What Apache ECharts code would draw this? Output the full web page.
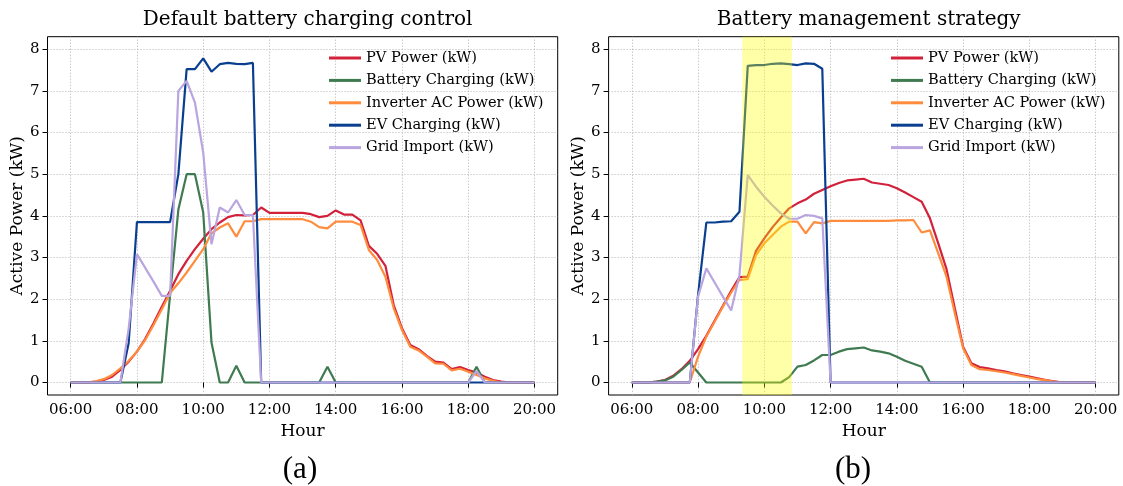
<!DOCTYPE html>
<html>
<head>
<meta charset="utf-8">
<script src="https://cdn.jsdelivr.net/npm/echarts@6/dist/echarts.min.js"></script>
<style>html,body{margin:0;padding:0;background:#fff;}#c{width:1123px;height:486px;}</style>
</head>
<body>
<div id="c"></div>
<script>
// ---------------- data ----------------
const HOURS = ['06:00','06:15','06:30','06:45','07:00','07:15','07:30','07:45','08:00','08:15','08:30','08:45',
  '09:00','09:15','09:30','09:45','10:00','10:15','10:30','10:45','11:00','11:15','11:30','11:45',
  '12:00','12:15','12:30','12:45','13:00','13:15','13:30','13:45','14:00','14:15','14:30','14:45',
  '15:00','15:15','15:30','15:45','16:00','16:15','16:30','16:45','17:00','17:15','17:30','17:45',
  '18:00','18:15','18:30','18:45','19:00','19:15','19:30','19:45','20:00'];

const X_TICK_LABELS = ['06:00','08:00','10:00','12:00','14:00','16:00','18:00','20:00'];
const Y_TICK_LABELS = [0,1,2,3,4,5,6,7,8];

const SERIES_NAMES = ['PV Power (kW)','Battery Charging (kW)','Inverter AC Power (kW)','EV Charging (kW)','Grid Import (kW)'];
const TITLES = ['Default battery charging control','Battery management strategy'];
const CAPTIONS = ['(a)','(b)'];

// (a) default control
const pvA  = [0,0,0,0.02,0.06,0.14,0.3,0.5,0.74,1.05,1.42,1.82,2.2,2.6,2.92,3.2,3.45,3.68,3.84,3.97,4.02,4.01,4.02,4.2,4.07,
  4.07,4.07,4.07,4.07,4.04,3.97,4.0,4.13,4.03,4.03,3.89,3.28,3.09,2.8,1.86,1.3,0.9,0.8,0.64,0.5,0.48,0.32,0.37,0.3,0.24,0.14,0.06,0.02,0,0,0,0];
const batA = [0,0,0,0,0,0,0,0,0,0,0,0,2.1,4.15,5.0,5.0,4.08,0.96,0,0,0.4,0,0,0,0,
  0,0,0,0,0,0,0.38,0,0,0,0,0,0,0,0,0,0,0,0,0,0,0,0,0,0.38,0,0,0,0,0,0,0];
const invA = [0,0,0,0.03,0.08,0.18,0.34,0.52,0.74,1.02,1.38,1.76,2.15,2.38,2.64,2.92,3.2,3.58,3.72,3.82,3.5,3.87,3.87,3.92,3.92,
  3.92,3.92,3.92,3.92,3.86,3.73,3.7,3.86,3.86,3.86,3.78,3.18,2.94,2.54,1.78,1.26,0.86,0.77,0.62,0.46,0.45,0.29,0.33,0.26,0.18,0.1,0.04,0,0,0,0,0];
const evA  = [0,0,0,0,0,0,0,0.95,3.85,3.85,3.85,3.85,3.85,5.0,7.52,7.52,7.78,7.46,7.64,7.67,7.65,7.64,7.67,0,0,
  0,0,0,0,0,0,0,0,0,0,0,0,0,0,0,0,0,0,0,0,0,0,0,0,0,0,0,0,0,0,0,0];
const gridA = [0,0,0,0,0,0,0,1.3,3.08,2.75,2.42,2.08,2.08,7.0,7.24,6.72,5.52,3.32,4.2,4.08,4.38,4.02,4.02,0,0,
  0,0,0,0,0,0,0,0,0,0,0,0,0,0,0,0,0,0,0,0,0,0,0,0,0.28,0,0,0,0,0,0,0];

// (b) battery management strategy
const pvB  = [0,0,0,0.02,0.06,0.16,0.32,0.52,0.8,1.12,1.48,1.84,2.2,2.53,2.54,3.16,3.46,3.73,3.96,4.18,4.3,4.39,4.53,4.62,4.71,
  4.79,4.85,4.87,4.89,4.8,4.77,4.74,4.66,4.56,4.45,4.34,3.94,3.34,2.72,1.78,0.86,0.46,0.37,0.34,0.3,0.27,0.22,0.18,0.14,0.1,0.06,0.03,0,0,0,0,0];
const batB = [0,0,0,0.02,0.05,0.14,0.3,0.48,0.24,0,0,0,0,0,0,0,0,0,0,0.13,0.38,0.42,0.53,0.66,0.66,
  0.74,0.8,0.82,0.84,0.77,0.74,0.7,0.62,0.52,0.45,0.38,0,0,0,0,0,0,0,0,0,0,0,0,0,0,0,0,0,0,0,0,0];
const invB = [0,0,0,0,0,0,0,0,0.62,1.1,1.46,1.82,2.16,2.46,2.48,3.06,3.34,3.54,3.74,3.86,3.86,3.58,3.85,3.82,3.88,
  3.88,3.88,3.88,3.88,3.88,3.88,3.88,3.89,3.89,3.9,3.6,3.65,3.1,2.54,1.66,0.82,0.42,0.32,0.3,0.27,0.24,0.2,0.16,0.12,0.08,0.05,0.02,0,0,0,0,0];
const evB  = [0,0,0,0,0,0,0,0,2.1,3.84,3.84,3.86,3.87,4.1,7.6,7.62,7.62,7.65,7.66,7.64,7.62,7.66,7.65,7.53,0,
  0,0,0,0,0,0,0,0,0,0,0,0,0,0,0,0,0,0,0,0,0,0,0,0,0,0,0,0,0,0,0,0];
const gridB = [0,0,0,0,0,0,0,0,2.06,2.74,2.4,2.06,1.73,2.58,4.98,4.7,4.46,4.25,4.06,3.93,3.93,4.02,4.0,3.94,0,
  0,0,0,0,0,0,0,0,0,0,0,0,0,0,0,0,0,0,0,0,0,0,0,0,0,0,0,0,0,0,0,0];

const BAND = ['09:20','10:50'];

// ---------------- styling ----------------
const F = 'DejaVu Serif';
const COLORS = ['#d2213a','#3f7a50','#ff8c3c','#0a3f8f','#b9a5df'];
const LW = 2.2;

function toH(s){ const p = s.split(':'); return +p[0] + (+p[1])/60; }
const X_TICK_VALUES = X_TICK_LABELS.map(toH);
const XH = HOURS.map(toH);
function pair(arr){ return XH.map((h,i)=>[h, arr[i]]); }

const GRIDS = [
  {left: 47.5, top: 36.7, width: 510.2, height: 358.3},
  {left: 608.6, top: 36.7, width: 510.2, height: 358.3}
];

function xAx(gi){
  return {
    type:'value', gridIndex: gi, min: 5.3, max: 20.7,
    name:'Hour', nameLocation:'middle', nameGap: 28,
    nameTextStyle:{fontFamily:F, fontSize:17, color:'#000'},
    axisLine:{show:false},
    axisTick:{show:true, customValues: X_TICK_VALUES, length:5, lineStyle:{color:'#000', width:1}},
    axisLabel:{customValues: X_TICK_VALUES, formatter: v => X_TICK_LABELS[X_TICK_VALUES.indexOf(v)] || '',
      fontFamily:F, fontSize:15, color:'#000', margin:8},
    splitLine:{show:true, lineStyle:{type:[1,2], color:'#b4b4b4', width:1}}
  };
}
function yAx(gi){
  return {
    type:'value', gridIndex: gi, min: -0.3, max: 8.3,
    name:'Active Power (kW)', nameLocation:'middle', nameGap: 21, nameRotate: 90,
    nameTextStyle:{fontFamily:F, fontSize:17, color:'#000'},
    axisLine:{show:false},
    axisTick:{show:true, customValues: Y_TICK_LABELS, length:5, lineStyle:{color:'#000', width:1}},
    axisLabel:{customValues: Y_TICK_LABELS, fontFamily:F, fontSize:15, color:'#000', margin:8},
    splitLine:{show:true, lineStyle:{type:[1,2], color:'#b4b4b4', width:1}}
  };
}

const DATA = [[pvA,batA,invA,evA,gridA],[pvB,batB,invB,evB,gridB]];
const series = [];
DATA.forEach((set, gi) => {
  set.forEach((arr, k) => {
    series.push({
      type:'line', name: SERIES_NAMES[k], xAxisIndex: gi, yAxisIndex: gi,
      data: pair(arr), showSymbol:false, symbol:'none', animation:false,
      lineStyle:{color: COLORS[k], width: LW}, itemStyle:{color: COLORS[k]}, z: 2 + k*0.01
    });
  });
});
series.push({
  type:'line', xAxisIndex:1, yAxisIndex:1, data:[], z: 10, animation:false,
  markArea:{silent:true, z: 10, itemStyle:{color:'rgba(255,255,0,0.34)'},
    data:[[{xAxis: toH(BAND[0]), yAxis: -0.3},{xAxis: toH(BAND[1]), yAxis: 8.3}]]}
});

function legend(left){
  return {
    orient:'vertical', left: left, top: 45, itemWidth: 32, itemHeight: 3, itemGap: 6.4,
    icon: 'rect', selectedMode:false, data: SERIES_NAMES,
    textStyle:{fontFamily:F, fontSize:14.6, color:'#000', lineHeight:16}
  };
}

const option = {
  backgroundColor:'#fff',
  animation:false,
  title:[
    {text:TITLES[0], left: 302.6, top: 5, textAlign:'center', textStyle:{fontFamily:F, fontSize:20, fontWeight:'normal', color:'#000'}},
    {text:TITLES[1], left: 863.7, top: 5, textAlign:'center', textStyle:{fontFamily:F, fontSize:20, fontWeight:'normal', color:'#000'}},
    {text:CAPTIONS[0], left: 295, top: 449, textAlign:'center', textStyle:{fontFamily:'Liberation Serif', fontSize:31, fontWeight:'normal', color:'#000'}},
    {text:CAPTIONS[1], left: 848, top: 449, textAlign:'center', textStyle:{fontFamily:'Liberation Serif', fontSize:31, fontWeight:'normal', color:'#000'}}
  ],
  grid: GRIDS.map(g => Object.assign({show:true, borderColor:'#000', borderWidth:1, backgroundColor:'transparent', containLabel:false}, g)),
  legend:[legend(324), legend(886)],
  xAxis:[xAx(0), xAx(1)],
  yAxis:[yAx(0), yAx(1)],
  series: series
};
const chart = echarts.init(document.getElementById('c'), null, {renderer:'canvas'});
chart.setOption(option);
</script>
</body>
</html>
